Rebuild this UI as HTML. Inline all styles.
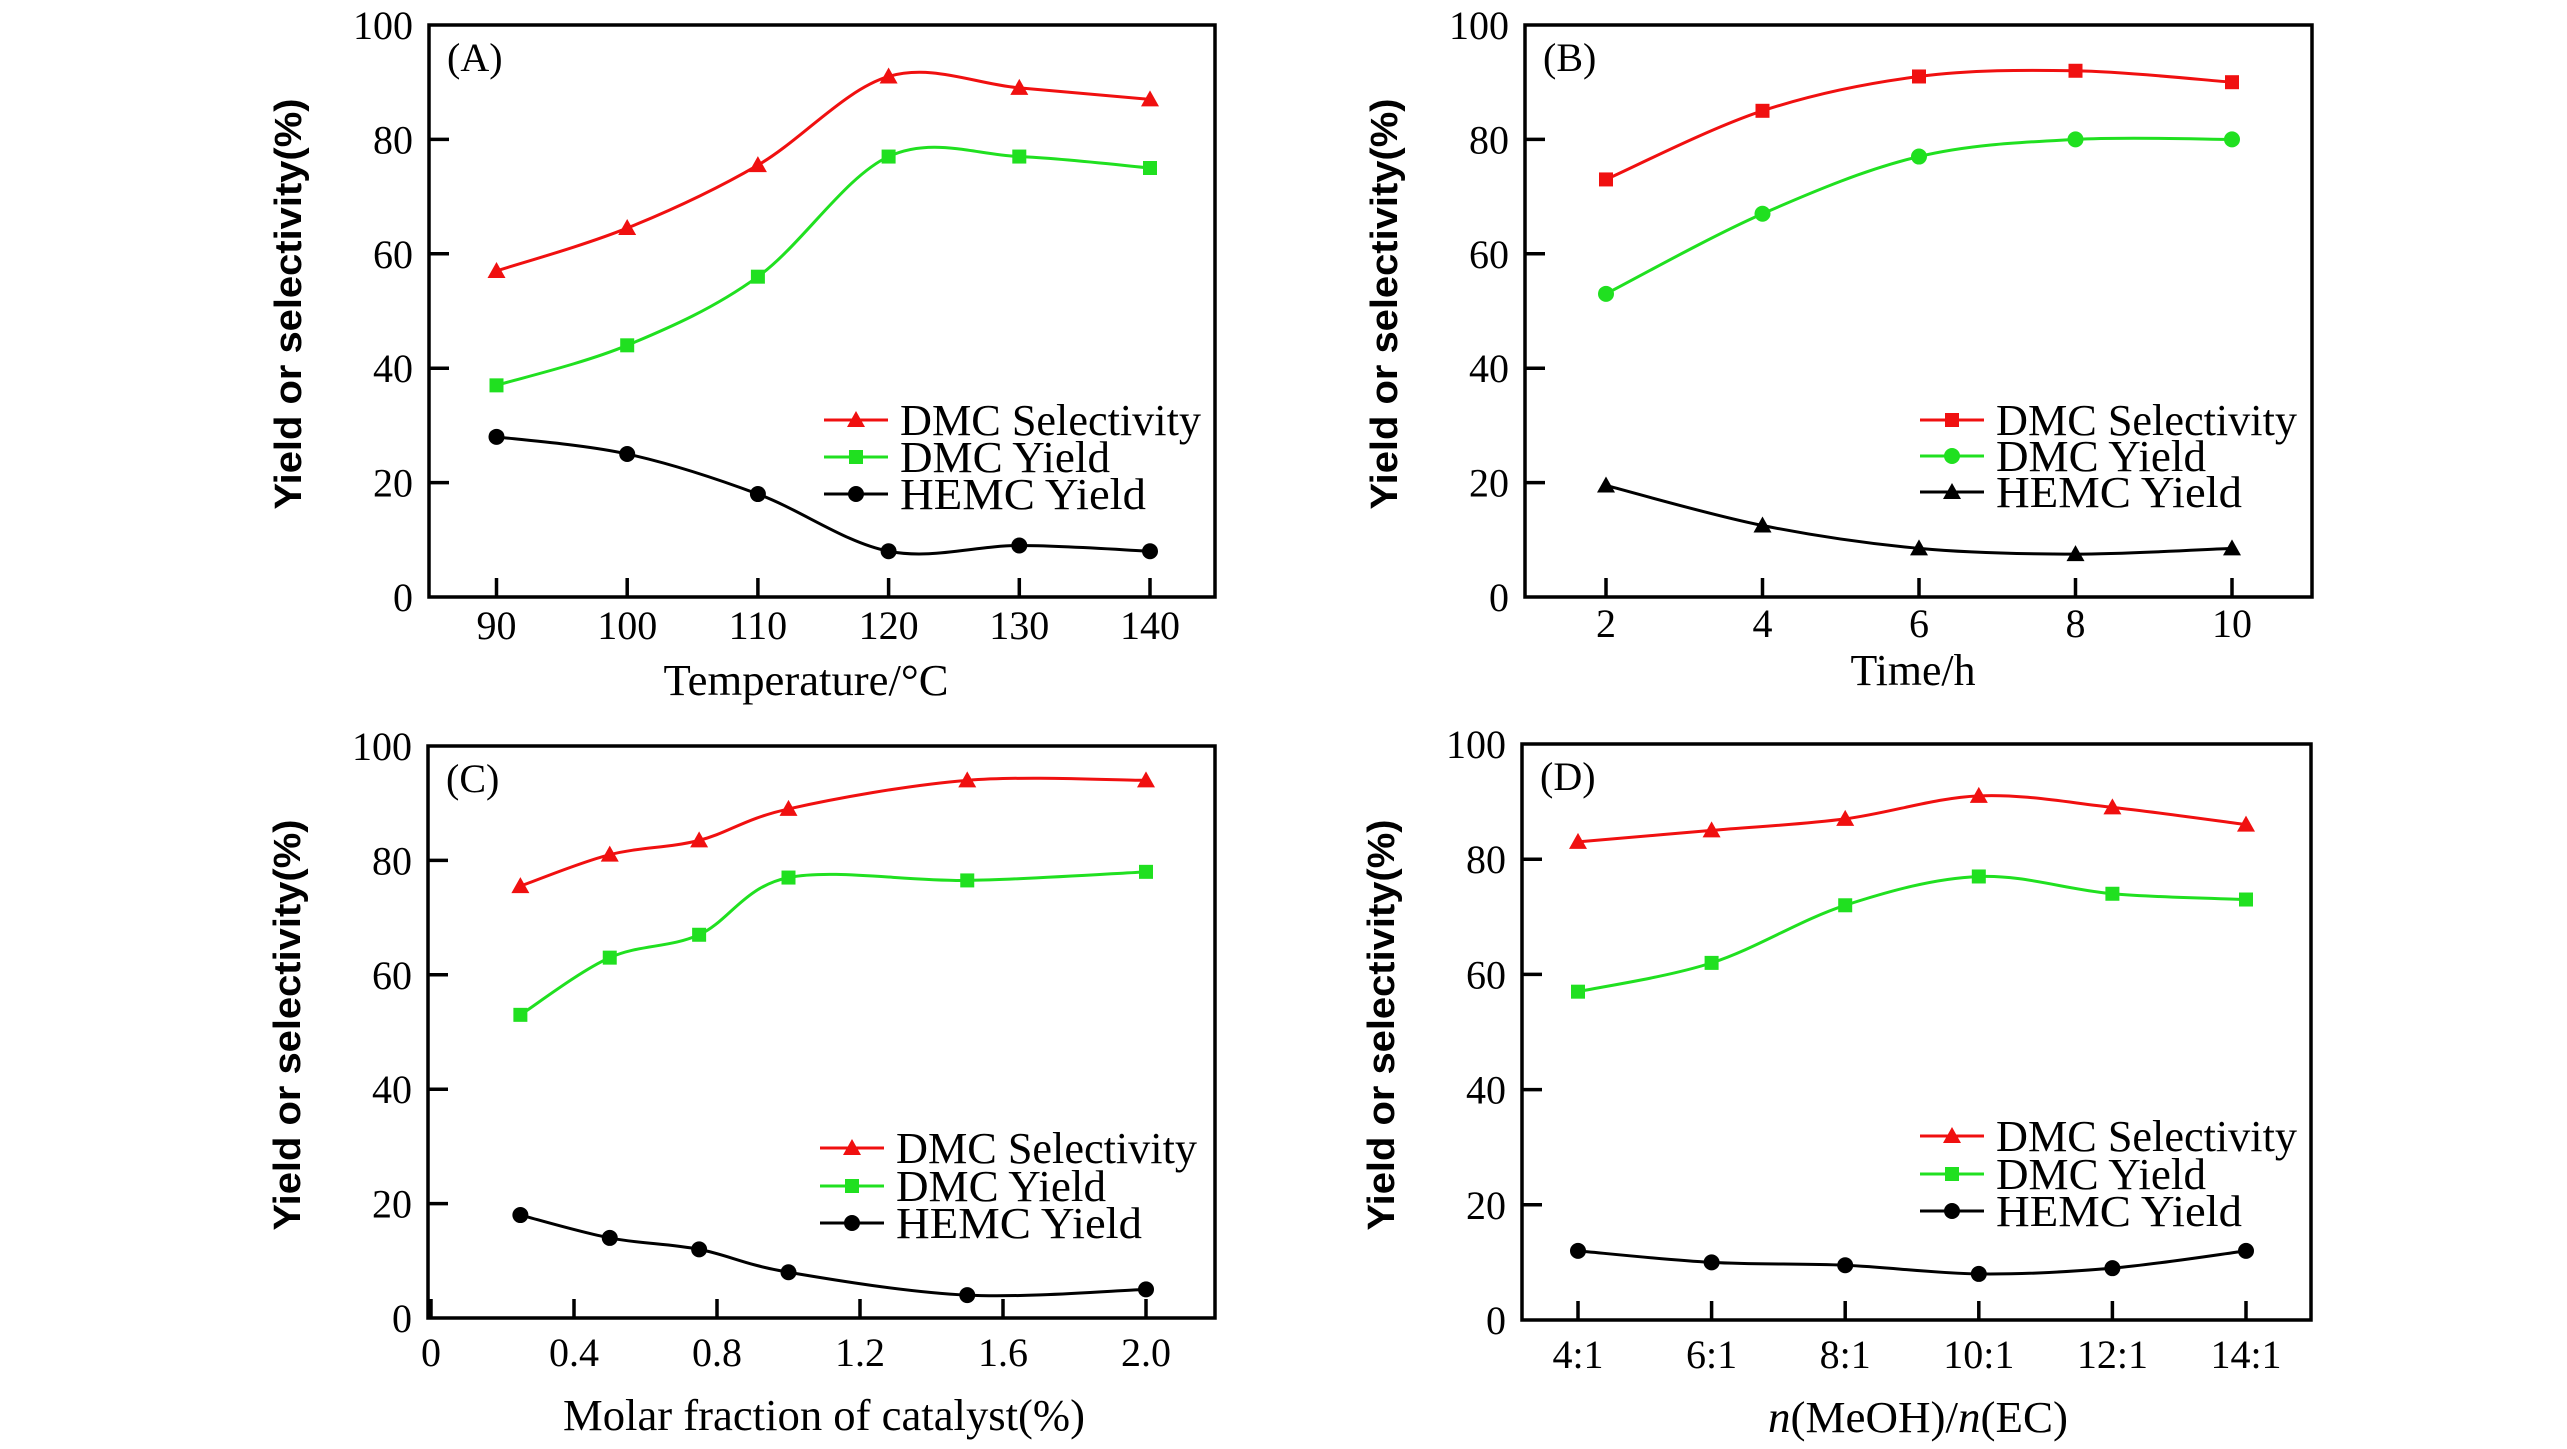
<!DOCTYPE html>
<html><head><meta charset="utf-8"><style>
html,body{margin:0;padding:0;background:#fff;}
svg{display:block;}
</style></head><body>
<svg id="fig" width="2567" height="1449" viewBox="0 0 2567 1449" xmlns="http://www.w3.org/2000/svg"></svg>
<script>
// ---- data ----
const catA = [90,100,110,120,130,140];
const selA = [57,64.5,75.5,91,89,87];
const yldA = [37,44,56,77,77,75];
const hemA = [28,25,18,8,9,8];

const catB = [2,4,6,8,10];
const selB = [73,85,91,92,90];
const yldB = [53,67,77,80,80];
const hemB = [19.5,12.5,8.5,7.5,8.5];

const catC = [0.25,0.5,0.75,1.0,1.5,2.0];
const selC = [75.5,81,83.5,89,94,94];
const yldC = [53,63,67,77,76.5,78];
const hemC = [18,14,12,8,4,5];

const catD = ["4:1","6:1","8:1","10:1","12:1","14:1"];
const selD = [83,85,87,91,89,86];
const yldD = [57,62,72,77,74,73];
const hemD = [12,10,9.5,8,9,12];

const yTicks = [0,20,40,60,80,100];
const xTicksA = [90,100,110,120,130,140];
const xTicksB = [2,4,6,8,10];
const xTicksC = ["0","0.4","0.8","1.2","1.6","2.0"];
const legendLabels = ["DMC Selectivity","DMC Yield","HEMC Yield"];

const NS="http://www.w3.org/2000/svg";
const svg=document.getElementById('fig');
function mk(tag,attrs,parent){const e=document.createElementNS(NS,tag);for(const k in attrs)e.setAttribute(k,attrs[k]);(parent||svg).appendChild(e);return e;}
const RED="#f01010",GRN="#20e020",BLK="#000";

function smooth(pts){
  let d="M"+pts[0][0]+","+pts[0][1];
  for(let i=0;i<pts.length-1;i++){
    const p0=pts[Math.max(i-1,0)],p1=pts[i],p2=pts[i+1],p3=pts[Math.min(i+2,pts.length-1)];
    const c1x=p1[0]+(p2[0]-p0[0])/6,c1y=p1[1]+(p2[1]-p0[1])/6;
    const c2x=p2[0]-(p3[0]-p1[0])/6,c2y=p2[1]-(p3[1]-p1[1])/6;
    d+=" C"+c1x+","+c1y+" "+c2x+","+c2y+" "+p2[0]+","+p2[1];
  }
  return d;
}
function marker(g,type,x,y,color){
  let m;
  if(type==='tri'){m=mk('polygon',{points:(x)+","+(y-9)+" "+(x-9)+","+(y+7)+" "+(x+9)+","+(y+7),fill:color},g);}
  else if(type==='sq'){m=mk('rect',{x:x-7,y:y-7,width:14,height:14,fill:color},g);}
  else {m=mk('circle',{cx:x,cy:y,r:8,fill:color},g);}
  return m;
}

function panel(o){
  const g=mk('g',{});
  
  
  const L=o.L,R=o.R,T=o.T,B=o.B;
  const ys=v=>B-(v/100)*(B-T);
  yTicks.forEach(v=>{
    if(v>0&&v<100){const t=mk('line',{x1:L,y1:ys(v),x2:L+20,y2:ys(v),stroke:BLK,'stroke-width':3.5},g);
      }
    const tx=mk('text',{x:L-16,y:ys(v)+14,'text-anchor':'end','font-family':'Liberation Serif, serif','font-size':40},g);
    tx.textContent=v;
    
  });
  o.xticks.forEach((lab,i)=>{
    const x=o.xtickPos(i);
    if(x>L+2){const t=mk('line',{x1:x,y1:B,x2:x,y2:B-19,stroke:BLK,'stroke-width':3.5},g);
      }
    const tx=mk('text',{x:x,y:B+o.tlOff,'text-anchor':'middle','font-family':'Liberation Serif, serif','font-size':40},g);
    tx.textContent=lab;
    
  });
  const fr=mk('rect',{x:L,y:T,width:R-L,height:B-T,fill:'none',stroke:BLK,'stroke-width':3.5},g);
  
  o.series.forEach(s=>{
    const pts=s.vals.map((v,i)=>[o.xs(i),ys(v)]);
    const p=mk('path',{d:smooth(pts),fill:'none',stroke:s.color,'stroke-width':3},g);
    
    pts.forEach(pt=>{const m=marker(g,s.mk,pt[0],pt[1],s.color);
      });
  });
  o.series.forEach((s,i)=>{
    const y=o.legY[i];
    const ln=mk('line',{x1:o.legX,y1:y,x2:o.legX+64,y2:y,stroke:s.color,'stroke-width':3},g);
    
    marker(g,s.mk,o.legX+32,y,s.color);
    const tx=mk('text',{x:o.legX+76,y:y+15,'font-family':'Liberation Serif, serif','font-size':44,textLength:[301,210,246][i],lengthAdjust:'spacingAndGlyphs'},g);
    tx.textContent=legendLabels[i];
    
  });
  const pl=mk('text',{x:L+18,y:T+46,'font-family':'Liberation Serif, serif','font-size':40},g);
  pl.textContent='('+o.id+')';
  
  const cy=(T+B)/2-7, cx=L-128;
  const yt=mk('text',{x:cx,y:cy,transform:'rotate(-90 '+cx+' '+cy+')','text-anchor':'middle','font-family':'Liberation Sans, sans-serif','font-weight':'bold','font-size':38,textLength:411,lengthAdjust:'spacingAndGlyphs'},g);
  yt.textContent='Yield or selectivity(%)';
  
  const xt=mk('text',{x:o.xtX,y:B+o.xtOff,'text-anchor':'middle','font-family':'Liberation Serif, serif','font-size':44,textLength:o.xtW,lengthAdjust:'spacingAndGlyphs'},g);
  if(o.id==='D'){
    const a=mk('tspan',{'font-style':'italic'},xt);a.textContent='n';
    const b=mk('tspan',{},xt);b.textContent='(MeOH)/';
    const c=mk('tspan',{'font-style':'italic'},xt);c.textContent='n';
    const d=mk('tspan',{},xt);d.textContent='(EC)';
  } else xt.textContent=o.xtitle;
  
}

(function(){
  const x0=496.5,step=(1150-496.5)/50;
  const xs=i=>x0+(catA[i]-90)*step;
  panel({id:'A',L:429,R:1215,T:25,B:597,xs:xs,xticks:xTicksA,xtickPos:i=>x0+(xTicksA[i]-90)*step,
    tlOff:42,xtOff:98,xtX:806,xtW:285,xtitle:'Temperature/°C',legX:824,legY:[420,457,494],
    series:[{name:'dmc-selectivity',vals:selA,color:RED,mk:'tri'},{name:'dmc-yield',vals:yldA,color:GRN,mk:'sq'},{name:'hemc-yield',vals:hemA,color:BLK,mk:'circ'}]});
})();
(function(){
  const x0=1606,step=(2232-1606)/8;
  const xs=i=>x0+(catB[i]-2)*step;
  panel({id:'B',L:1525,R:2312,T:25,B:597,xs:xs,xticks:xTicksB,xtickPos:i=>x0+(xTicksB[i]-2)*step,
    tlOff:40,xtOff:88,xtX:1913,xtW:125,xtitle:'Time/h',legX:1920,legY:[420,456,492],
    series:[{name:'dmc-selectivity',vals:selB,color:RED,mk:'sq'},{name:'dmc-yield',vals:yldB,color:GRN,mk:'circ'},{name:'hemc-yield',vals:hemB,color:BLK,mk:'tri'}]});
})();
(function(){
  const x0=431,unit=(1146-431)/2;
  const xs=i=>x0+catC[i]*unit;
  panel({id:'C',L:428,R:1215,T:746,B:1318,xs:xs,xticks:xTicksC,xtickPos:i=>x0+parseFloat(xTicksC[i])*unit,
    tlOff:48,xtOff:112,xtX:824,xtW:522,xtitle:'Molar fraction of catalyst(%)',legX:820,legY:[1148,1186,1223],
    series:[{name:'dmc-selectivity',vals:selC,color:RED,mk:'tri'},{name:'dmc-yield',vals:yldC,color:GRN,mk:'sq'},{name:'hemc-yield',vals:hemC,color:BLK,mk:'circ'}]});
})();
(function(){
  const x0=1578,step=(2246-1578)/5;
  const xs=i=>x0+i*step;
  panel({id:'D',L:1522,R:2311,T:744,B:1320,xs:xs,xticks:catD,xtickPos:i=>x0+i*step,
    tlOff:48,xtOff:112,xtX:1918,xtW:300,xtitle:'',legX:1920,legY:[1136,1174,1211],
    series:[{name:'dmc-selectivity',vals:selD,color:RED,mk:'tri'},{name:'dmc-yield',vals:yldD,color:GRN,mk:'sq'},{name:'hemc-yield',vals:hemD,color:BLK,mk:'circ'}]});
})();
</script>
</body></html>
